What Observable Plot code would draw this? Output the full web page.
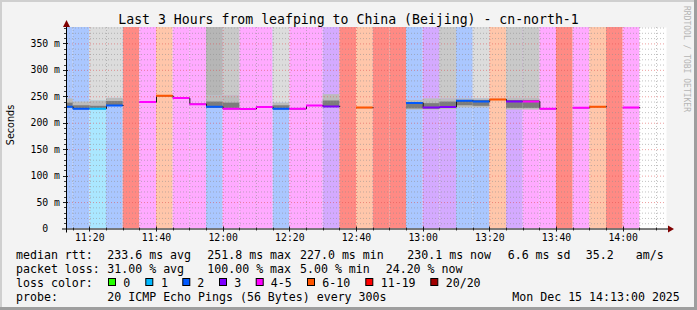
<!DOCTYPE html>
<html><head><meta charset="utf-8">
<script src="https://cdn.jsdelivr.net/npm/d3@7"></script>
<script src="https://cdn.jsdelivr.net/npm/@observablehq/plot@0.6"></script>
<style>
html,body{margin:0;padding:0;background:#f3f3f3;}
#chart{width:697px;height:310px;position:relative;overflow:hidden;}
</style></head><body><div id="chart"></div>
<script>
// ---------- data ----------
const chartDay = "2025-12-15";
const windowStart = "11:13";
const windowEnd = "14:13";
const stepMinutes = 5;
const stepStarts = ["11:10","11:15","11:20","11:25","11:30","11:35","11:40","11:45","11:50","11:55",
  "12:00","12:05","12:10","12:15","12:20","12:25","12:30","12:35","12:40","12:45",
  "12:50","12:55","13:00","13:05","13:10","13:15","13:20","13:25","13:30","13:35",
  "13:40","13:45","13:50","13:55","14:00"];
const lossBand = ["2","2","1","2","20/20","4-5","6-10","4-5","4-5","2",
  "4-5","4-5","4-5","2","4-5","4-5","3","20/20","6-10","20/20",
  "20/20","2","3","3","2","2","6-10","3","4-5","4-5",
  "20/20","4-5","6-10","20/20","4-5"];
const medianRtt = [231,227.5,227.5,233.6,null,239.9,251.8,247.5,236,231,
  227.3,227.0,230.5,227.3,227.2,233.5,231.7,null,229.5,null,
  null,238.4,229.5,230.7,242.5,241.2,245,241.2,241.2,227.3,
  null,229.3,231.2,null,229.5];
const smokeLow  = [230,226,226,232,null,null,null,null,null,229,
  226,null,null,226,null,null,229,null,null,null,
  null,225,225,226,229,229,null,225,225,null,
  null,null,null,null,null];
const smokeHigh = [246,240,242,247,null,null,null,null,null,252,
  252,null,null,238,null,null,254,null,null,null,
  null,243,246,246,246,246,null,247,247,null,
  null,null,null,null,null];
const coreLow   = [230,226,226,232,null,null,null,null,null,229,
  226,null,null,226,null,null,230,null,null,null,
  null,227,227,229,233,232,null,228,228,null,
  null,null,null,null,null];
const coreHigh  = [238,233,232,241,null,null,null,null,null,240,
  238,null,null,233,null,null,242,null,null,null,
  null,238,237,240,243,243,null,243,243,null,
  null,null,null,null,null];
const pingsAboveTop = [0,0,1,1,0,0,0,0,0,3,
  2,0,0,1,0,0,0,0,0,0,
  0,0,0,2,0,1,0,2,2,0,
  0,0,0,0,0];
const lossLabels = ["0","1","2","3","4-5","6-10","11-19","20/20"];
const lossColors = ["#26ff00","#00b8ff","#0059ff","#7e00ff","#ff00ff","#ff5500","#ff0000","#a10000"];
const xTickLabels = ["11:20","11:40","12:00","12:20","12:40","13:00","13:20","13:40","14:00"];
const yTicks = [0,50,100,150,200,250,300,350];
const yTickLabels = ["0\u00a0\u00a0","50 m","100 m","150 m","200 m","250 m","300 m","350 m"];
const yTop = 381;
const titleText = "Last 3 Hours from leafping to China (Beijing) - cn-north-1";
const yLabel = "Seconds";
const rttLabel = "median rtt:";
const rttStats = ["233.6 ms avg","251.8 ms max","227.0 ms min","230.1 ms now","6.6 ms sd","35.2","am/s"];
const lossLabel = "packet loss:";
const lossStats = ["31.00 % avg","100.00 % max","5.00 % min","24.20 % now"];
const colorLabel = "loss color:";
const probeLabel = "probe:";
const probeText = "20 ICMP Echo Pings (56 Bytes) every 300s";
const stampText = "Mon Dec 15 14:13:00 2025";
const watermark = "RRDTOOL / TOBI OETIKER";

// ---------- build ----------
const parseT = s => new Date(`${chartDay}T${s}:00Z`);
const steps = stepStarts.map((s, i) => {
  const t0 = parseT(s);
  return {t0, t1: new Date(+t0 + stepMinutes * 60000), loss: lossBand[i], median: medianRtt[i],
    smokeLow: smokeLow[i], smokeHigh: smokeHigh[i], coreLow: coreLow[i], coreHigh: coreHigh[i],
    above: pingsAboveTop[i]};
});
const lineColor = l => lossColors[lossLabels.indexOf(l)];
const bandFill = l => l === "20/20" ? "#ff8a84" : d3.interpolateRgb("#ffffff", lineColor(l))(0.335);
const topShade = d3.scaleLinear().domain([1, 3]).range(["#dcdcdc", "#b6b6b6"]);

const path = [];
steps.forEach(d => {
  if (d.median == null) { path.push({t: d.t0, v: NaN}); }
  else { path.push({t: d.t0, v: d.median}); path.push({t: d.t1, v: d.median}); }
});

const x0 = parseT(windowStart), x1 = parseT(windowEnd);
const minorTimes = d3.utcMinute.every(5).range(x0, x1).filter(t => t.getUTCMinutes() % 20 !== 0);
const majorTimes = xTickLabels.map(parseT);
const minorY = d3.range(10, yTop, 10).filter(v => v % 50 !== 0);
const majorY = yTicks.filter(v => v > 0);

const svg = Plot.plot({
  width: 697, height: 310,
  marginLeft: 66, marginRight: 31, marginTop: 27, marginBottom: 81.5,
  style: {background: "#f3f3f3", fontFamily: "'DejaVu Sans Mono', monospace", fontSize: "9.8px", color: "#000"},
  x: {type: "utc", domain: [x0, x1]},
  y: {domain: [0, yTop]},
  marks: [
    Plot.frame({fill: "#ffffff", stroke: null}),
    Plot.rect(steps, {x1: "t0", x2: "t1", y1: 0, y2: yTop, fill: d => bandFill(d.loss), clip: true}),
    Plot.rect(steps.filter(d => d.above > 0), {x1: "t0", x2: "t1", y1: "smokeHigh", y2: yTop, fill: d => topShade(d.above), clip: true}),
    Plot.rect(steps.filter(d => d.smokeLow != null), {x1: "t0", x2: "t1", y1: "smokeLow", y2: "smokeHigh", fill: "#bcbcbc", clip: true}),
    Plot.rect(steps.filter(d => d.coreLow != null), {x1: "t0", x2: "t1", y1: "coreLow", y2: "coreHigh", fill: "#7c7c7c", clip: true}),
    Plot.ruleX(minorTimes, {stroke: "#8f8f8f", strokeOpacity: 0.55, strokeDasharray: "1,2"}),
    Plot.ruleX(majorTimes, {stroke: "#de5050", strokeOpacity: 0.55, strokeDasharray: "1,2"}),
    Plot.ruleY(minorY, {stroke: "#8f8f8f", strokeOpacity: 0.55, strokeDasharray: "1,2"}),
    Plot.ruleY(majorY, {stroke: "#de5050", strokeOpacity: 0.55, strokeDasharray: "1,2"}),
    Plot.line(path, {x: "t", y: "v", stroke: "#1a1a1a", strokeWidth: 1, clip: true}),
    Plot.ruleY(steps.filter(d => d.median != null), {x1: "t0", x2: "t1", y: "median", stroke: d => lineColor(d.loss), strokeWidth: 2, clip: true}),
    Plot.axisY({ticks: yTicks, tickFormat: d => yTickLabels[yTicks.indexOf(d)], tickSize: 0, tickPadding: 6.5, label: null, fontSize: 9.8}),
    Plot.axisX({ticks: majorTimes, tickFormat: d => xTickLabels[majorTimes.findIndex(t => +t === +d)], tickSize: 0, tickPadding: 5.5, label: null, fontSize: 9.8})
  ]
});
document.getElementById("chart").appendChild(svg);

// ---------- decorations (axes lines, ticks, texts) ----------
const g = d3.select(svg);
const xs = svg.scale("x"), ys = svg.scale("y");
const y0 = ys.apply(0), xa = xs.apply(x0);
const ax = g.append("g");
minorY.forEach(v => ax.append("line").attr("x1", xa - 2).attr("x2", xa + 1).attr("y1", Math.round(ys.apply(v)) + 0.5).attr("y2", Math.round(ys.apply(v)) + 0.5).attr("stroke", "#404040"));
majorY.forEach(v => ax.append("line").attr("x1", xa - 3).attr("x2", xa + 2).attr("y1", Math.round(ys.apply(v)) + 0.5).attr("y2", Math.round(ys.apply(v)) + 0.5).attr("stroke", "#202020"));
minorTimes.forEach(t => ax.append("line").attr("x1", Math.round(xs.apply(t)) + 0.5).attr("x2", Math.round(xs.apply(t)) + 0.5).attr("y1", y0 - 1).attr("y2", y0 + 2).attr("stroke", "#404040"));
majorTimes.forEach(t => ax.append("line").attr("x1", Math.round(xs.apply(t)) + 0.5).attr("x2", Math.round(xs.apply(t)) + 0.5).attr("y1", y0 - 2).attr("y2", y0 + 3).attr("stroke", "#202020"));
const xe = xs.apply(x1);
ax.append("line").attr("x1", xa - 4).attr("x2", xe + 3).attr("y1", y0 + 0.5).attr("y2", y0 + 0.5).attr("stroke", "#000");
ax.append("line").attr("x1", xa + 0.5).attr("x2", xa + 0.5).attr("y1", y0 + 4).attr("y2", 25).attr("stroke", "#000");
ax.append("path").attr("d", `M${xa - 3},${27}L${xa + 4},${27}L${xa + 0.5},${20}Z`).attr("fill", "#7f0000");
ax.append("path").attr("d", `M${xe + 2},${y0 - 3}L${xe + 2},${y0 + 4}L${xe + 8},${y0 + 0.5}Z`).attr("fill", "#7f0000");

const mono = "'DejaVu Sans Mono', monospace";
const txt = (x, y, s, size, anchor) => g.append("text").attr("x", x).attr("y", y).attr("font-family", mono)
  .attr("font-size", size).attr("text-anchor", anchor || "start").attr("fill", "#000").style("white-space", "pre").text(s);

txt(348.5, 23.5, titleText, 13.2, "middle");
g.append("text").attr("transform", "translate(14,125) rotate(-90)").attr("text-anchor", "middle")
  .attr("font-family", "'DejaVu Sans', sans-serif").attr("font-size", 9.6).attr("fill", "#000").text(yLabel);
g.append("text").attr("transform", "translate(684,6) rotate(90)").attr("text-anchor", "start").attr("font-family", mono)
  .attr("font-size", 8).attr("fill", "#b5b5b5").text(watermark);

const L = 11.6;
const rows = [259, 273, 287, 301];
txt(16, rows[0], rttLabel, L);
[107.3, 207.3, 300, 407.3, 507.7, 585.7, 635.7].forEach((x, i) => txt(x, rows[0], rttStats[i], L));
txt(16, rows[1], lossLabel, L);
[107.3, 207.3, 300, 385.7].forEach((x, i) => txt(x, rows[1], lossStats[i], L));
txt(16, rows[2], colorLabel, L);
const boxX = [108.5, 145.8, 182.8, 219.5, 256.2, 307.5, 365.8, 430.8];
const labX = [123.3, 161, 197.3, 234.3, 270.7, 322.3, 380.7, 445.7];
lossLabels.forEach((l, i) => {
  g.append("rect").attr("x", boxX[i]).attr("y", 278.5).attr("width", 7).attr("height", 7)
    .attr("fill", lossColors[i]).attr("stroke", "#000").attr("stroke-width", 1);
  txt(labX[i], rows[2], l, L);
});
txt(16, rows[3], probeLabel, L);
txt(107.3, rows[3], probeText, L);
txt(512.3, rows[3], stampText, L);

g.append("rect").attr("x", 0).attr("y", 0).attr("width", 697).attr("height", 2).attr("fill", "#cfcfcf");
g.append("rect").attr("x", 0).attr("y", 0).attr("width", 2).attr("height", 310).attr("fill", "#cfcfcf");
g.append("rect").attr("x", 0).attr("y", 307).attr("width", 697).attr("height", 3).attr("fill", "#9e9e9e");
g.append("rect").attr("x", 694).attr("y", 0).attr("width", 3).attr("height", 310).attr("fill", "#9e9e9e");
</script></body></html>
